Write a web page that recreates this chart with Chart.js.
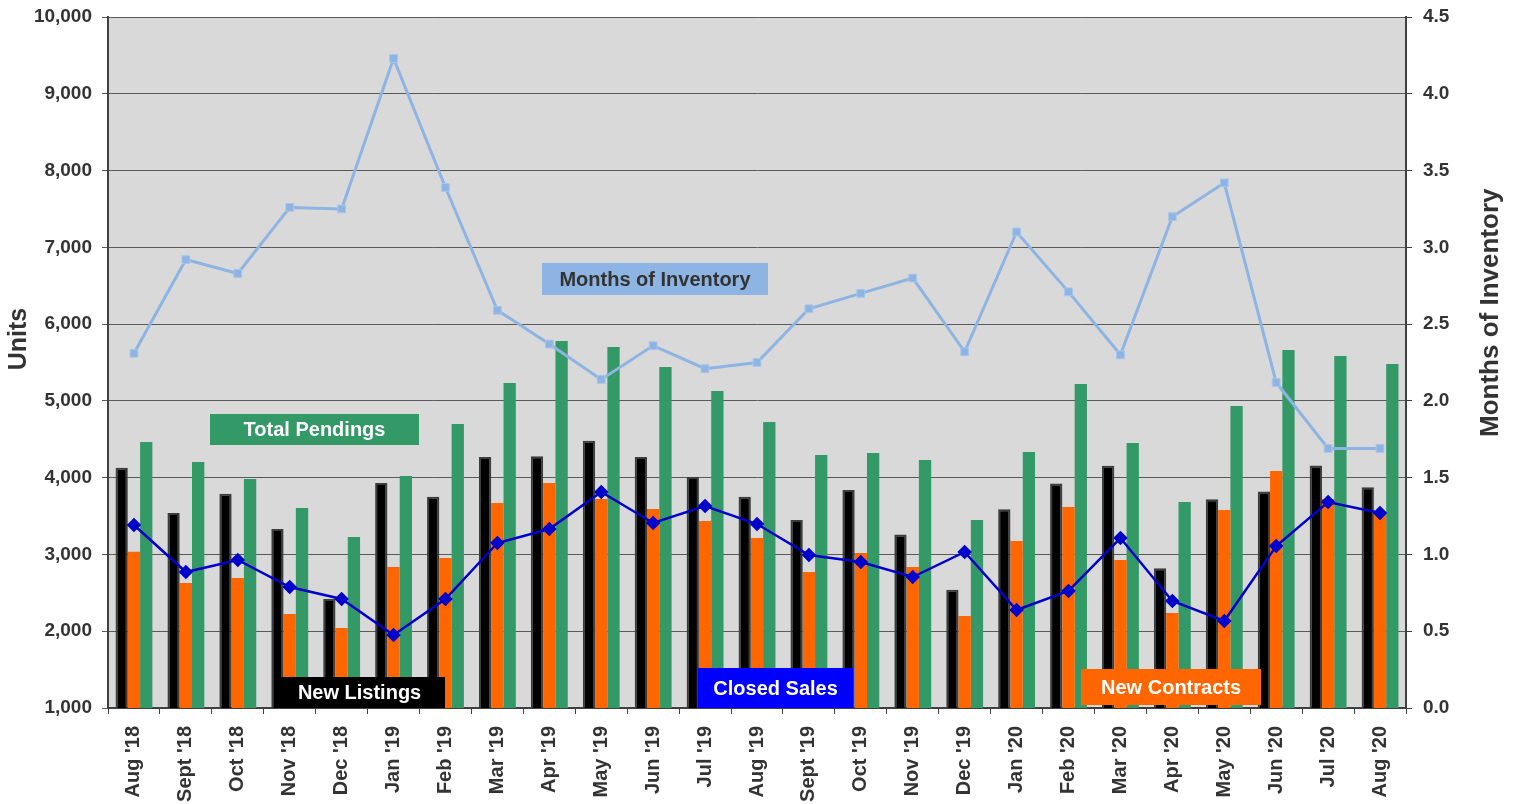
<!DOCTYPE html>
<html><head><meta charset="utf-8">
<script src="https://cdn.jsdelivr.net/npm/chart.js@4.4.1/dist/chart.umd.min.js"></script>
<style>html,body{margin:0;padding:0;background:#fff;overflow:hidden}</style>
</head><body>
<canvas id="c" width="1520" height="804"></canvas>
<script>
const categories = ["Aug '18","Sept '18","Oct '18","Nov '18","Dec '18","Jan '19","Feb '19","Mar '19","Apr '19","May '19","Jun '19","Jul '19","Aug '19","Sept '19","Oct '19","Nov '19","Dec '19","Jan '20","Feb '20","Mar '20","Apr '20","May '20","Jun '20","Jul '20","Aug '20"];
const newListings = [4130,3540,3790,3330,2420,3930,3750,4270,4280,4480,4270,4010,3750,3450,3840,3260,2540,3590,3925,4155,2820,3720,3820,4160,3875];
const newContracts = [3035,2628,2693,2224,2042,2836,2954,3670,3930,3722,3592,3436,3214,2771,3019,2836,2198,3175,3618,2928,2237,3579,4087,3722,3540];
const totalPendings = [4464,4204,3983,3605,3227,4022,4699,5233,5780,5702,5441,5129,4725,4295,4321,4230,3449,4334,5220,4451,3683,4933,5663,5585,5480];
const closedSales = [3383,2771,2928,2576,2420,1951,2420,3149,3331,3813,3410,3631,3396,2993,2902,2706,3032,2276,2524,3214,2394,2133,3110,3683,3540];
const monthsInventory = [2.31,2.92,2.83,3.26,3.25,4.23,3.39,2.59,2.37,2.14,2.36,2.21,2.25,2.60,2.70,2.80,2.32,3.10,2.71,2.30,3.20,3.42,2.12,1.69,1.69];
const leftTicks = [1000,2000,3000,4000,5000,6000,7000,8000,9000,10000];
const rightTicks = [0,0.5,1,1.5,2,2.5,3,3.5,4,4.5];
const seriesNames = ["New Listings","New Contracts","Total Pendings","Closed Sales","Months of Inventory"];
const axisTitles = ["Units","Months of Inventory"];

const FONT = "'Liberation Sans', Arial, sans-serif";
const TXT = '#333333';

const bgPlugin = {
  id: 'plotBg',
  beforeDraw(chart) {
    const a = chart.chartArea, ctx = chart.ctx;
    ctx.save(); ctx.fillStyle = '#D9D9D9';
    ctx.fillRect(a.left, a.top, a.right - a.left, a.bottom - a.top);
    ctx.restore();
  }
};

const boxes = [
  {text: seriesNames[4], fx: 0.4214, fy: 0.3792, w: 226, h: 32, bg: '#8DB4E2', fg: '#333333'},
  {text: seriesNames[2], fx: 0.1591, fy: 0.5970, w: 209, h: 31, bg: '#339966', fg: '#FFFFFF'},
  {text: seriesNames[0], fx: 0.1938, fy: 0.9776, w: 171, h: 31, bg: '#000000', fg: '#FFFFFF'},
  {text: seriesNames[3], fx: 0.5143, fy: 0.9711, w: 155, h: 40, bg: '#0000FF', fg: '#FFFFFF'},
  {text: seriesNames[1], fx: 0.8190, fy: 0.9696, w: 180, h: 36, bg: '#FF6600', fg: '#FFFFFF'}
];

const labelPlugin = {
  id: 'labelBoxes',
  afterDatasetsDraw(chart) {
    const a = chart.chartArea, ctx = chart.ctx;
    const W = a.right - a.left, H = a.bottom - a.top;
    ctx.save();
    boxes.forEach(b => {
      const cx = a.left + b.fx * W, cy = a.top + b.fy * H;
      ctx.fillStyle = b.bg;
      ctx.fillRect(Math.round(cx - b.w / 2), Math.round(cy - b.h / 2), b.w, b.h);
      ctx.fillStyle = b.fg;
      ctx.font = 'bold 20px ' + FONT;
      ctx.textAlign = 'center'; ctx.textBaseline = 'middle';
      ctx.fillText(b.text, cx, cy + 1);
    });
    ctx.restore();
  },
  afterDraw(chart) {
    const a = chart.chartArea, ctx = chart.ctx;
    const H = a.bottom - a.top;
    ctx.save();
    ctx.fillStyle = TXT;
    ctx.textAlign = 'center'; ctx.textBaseline = 'middle';
    ctx.font = 'bold 25px ' + FONT;
    ctx.translate(a.left - 89, a.top + 0.466 * H);
    ctx.rotate(-Math.PI / 2);
    ctx.fillText(axisTitles[0], 0, 0);
    ctx.restore();
    ctx.save();
    ctx.fillStyle = TXT;
    ctx.textAlign = 'center'; ctx.textBaseline = 'middle';
    ctx.font = 'bold 26px ' + FONT;
    ctx.translate(a.right + 85, a.top + 0.428 * H);
    ctx.rotate(-Math.PI / 2);
    ctx.fillText(axisTitles[1], 0, 0);
    ctx.restore();
  }
};

new Chart(document.getElementById('c'), {
  data: {
    labels: categories,
    datasets: [
      {type: 'bar', label: seriesNames[0], data: newListings, backgroundColor: '#000000', borderColor: '#3c3c3c', borderWidth: 2, borderSkipped: 'start', yAxisID: 'y', order: 1, categoryPercentage: 0.71, barPercentage: 1.0},
      {type: 'bar', label: seriesNames[1], data: newContracts, backgroundColor: '#FF6600', borderWidth: 0, yAxisID: 'y', order: 1, categoryPercentage: 0.71, barPercentage: 1.0},
      {type: 'bar', label: seriesNames[2], data: totalPendings, backgroundColor: '#339966', borderWidth: 0, yAxisID: 'y', order: 1, categoryPercentage: 0.71, barPercentage: 1.0},
      {type: 'line', label: seriesNames[3], data: closedSales, borderColor: '#0000CC', backgroundColor: '#0000CC', borderWidth: 2.5, pointStyle: 'rectRot', pointRadius: 5.5, pointBackgroundColor: '#0000CC', pointBorderColor: '#0000CC', yAxisID: 'y', order: 0, tension: 0},
      {type: 'line', label: seriesNames[4], data: monthsInventory, borderColor: '#8DB4E2', backgroundColor: '#8DB4E2', borderWidth: 3, pointStyle: 'rect', pointRadius: 5.5, pointBackgroundColor: '#8DB4E2', pointBorderColor: '#A9C6EA', pointBorderWidth: 1, yAxisID: 'y1', order: 0, tension: 0}
    ]
  },
  options: {
    responsive: false,
    animation: false,
    devicePixelRatio: 1,
    layout: {padding: {top: 17, bottom: 0, left: 0, right: 0}},
    plugins: {legend: {display: false}, title: {display: false}, tooltip: {enabled: false}},
    scales: {
      x: {
        offset: true,
        grid: {offset: true, drawOnChartArea: false, drawTicks: true, tickLength: 6, color: '#404040', lineWidth: 1},
        border: {color: '#404040', width: 2},
        ticks: {autoSkip: false, maxRotation: 90, minRotation: 90, padding: 12, color: TXT, font: {family: FONT, size: 20, weight: 'bold'}},
        afterFit(s) { s.height = 96; s.paddingLeft = 0; s.paddingRight = 0; }
      },
      y: {
        position: 'left', min: 1000, max: 10000,
        afterBuildTicks(s) { s.ticks = leftTicks.map(v => ({value: v})); },
        grid: {color: '#5a5a5a', lineWidth: 1, tickLength: 6, drawTicks: true},
        border: {color: '#404040', width: 2},
        ticks: {padding: 10, color: TXT, font: {family: FONT, size: 19, weight: 'bold'}, callback: v => Number(v).toLocaleString('en-US')},
        afterFit(s) { s.width = 108; s.paddingTop = 0; s.paddingBottom = 0; }
      },
      y1: {
        position: 'right', min: 0, max: 4.5,
        afterBuildTicks(s) { s.ticks = rightTicks.map(v => ({value: v})); },
        grid: {drawOnChartArea: false, tickLength: 6, color: '#404040'},
        border: {color: '#404040', width: 2},
        ticks: {padding: 11, color: TXT, font: {family: FONT, size: 19, weight: 'bold'}, callback: v => Number(v).toFixed(1)},
        afterFit(s) { s.width = 114; s.paddingTop = 0; s.paddingBottom = 0; }
      }
    }
  },
  plugins: [bgPlugin, labelPlugin]
});
</script>
</body></html>
